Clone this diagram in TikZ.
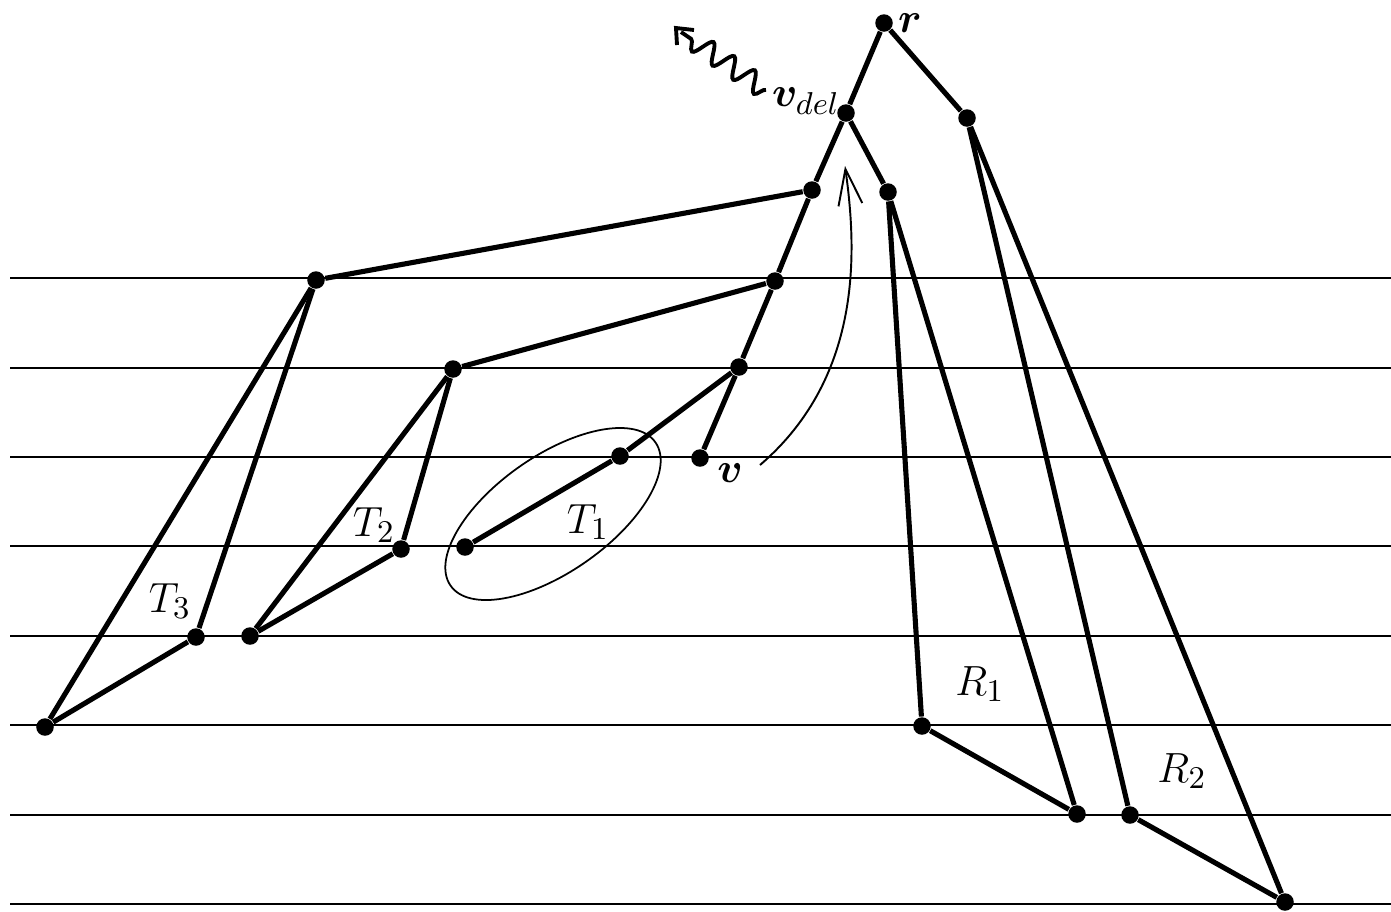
\documentclass[tikz,border=0pt]{standalone}
\usepackage{bm}
\usepackage{tikz}
\usetikzlibrary{positioning,arrows.meta,decorations.pathmorphing}
\tikzset{
  vtx/.style={circle,fill=black,inner sep=0pt,minimum size=1.75mm},
  edge/.style={line width=1.45pt},
  rule/.style={line width=0.6pt},
  lbl/.style={inner sep=1pt,font=\fontsize{13}{15}\selectfont},
  thinarrow/.style={line width=0.55pt,-{Straight Barb[length=3.6mm,width=2.4mm]}},
  wiggle/.style={line width=1.1pt,decorate,decoration={snake,amplitude=1mm,segment length=2.5mm}}
}

\begin{document}
\begin{tikzpicture}[x=0.01cm,y=-0.01cm]
  \useasboundingbox (0,0) rectangle (1391,911);
  % levels
  \foreach \y in {278,368,457,546,636,725,815,904}
    \draw[rule] (10,\y) -- (1391,\y);
  % vertices
  \node[vtx] (r) at (884,23) {};
  \node[vtx] (vdel) at (846,113) {};
  \node[vtx] (a) at (967,118) {};
  \node[vtx] (b) at (888,192) {};
  \node[vtx] (c) at (812,190) {};
  \node[vtx] (d) at (775,281) {};
  \node[vtx] (e) at (739,367) {};
  \node[vtx] (v) at (700,458) {};
  \node[vtx] (f) at (620,456) {};
  \node[vtx] (g) at (465,547) {};
  \node[vtx] (h) at (316,280) {};
  \node[vtx] (i) at (453,369) {};
  \node[vtx] (j) at (401,549) {};
  \node[vtx] (k) at (250,636) {};
  \node[vtx] (l) at (196,637) {};
  \node[vtx] (m) at (45,727) {};
  \node[vtx] (n) at (922,726) {};
  \node[vtx] (o) at (1077,814) {};
  \node[vtx] (p) at (1130,815) {};
  \node[vtx] (q) at (1285,902) {};
  % edges
  \draw[edge] (r) -- (vdel);
  \draw[edge] (r) -- (a);
  \draw[edge] (vdel) -- (c);
  \draw[edge] (vdel) -- (b);
  \draw[edge] (c) -- (d);
  \draw[edge] (d) -- (e);
  \draw[edge] (e) -- (v);
  \draw[edge] (e) -- (f);
  \draw[edge] (f) -- (g);
  \draw[edge] (c) -- (h);
  \draw[edge] (d) -- (i);
  \draw[edge] (h) -- (m);
  \draw[edge] (h) -- (l);
  \draw[edge] (l) -- (m);
  \draw[edge] (i) -- (k);
  \draw[edge] (i) -- (j);
  \draw[edge] (j) -- (k);
  \draw[edge] (b) -- (n);
  \draw[edge] (b) -- (o);
  \draw[edge] (n) -- (o);
  \draw[edge] (a) -- (p);
  \draw[edge] (a) -- (q);
  \draw[edge] (p) -- (q);
  % T1 ring
  \draw[line width=0.5pt,rotate around={35:(553,514)}] (553,514) ellipse (125 and 58);
  % labels
  \node[lbl] (rl) at (910,23) {$\bm{r}$};
  \node[lbl] (vdell) at (806,101) {$\bm{v}_{del}$};
  \node[lbl] (vl) at (730,473) {$\bm{v}$};
  \node[lbl] (t1) at (588,522) {$T_1$};
  \node[lbl] (t2) at (374,525) {$T_2$};
  \node[lbl] (t3) at (170,601) {$T_3$};
  \node[lbl] (r1) at (980,684) {$R_1$};
  \node[lbl] (r2) at (1182,771) {$R_2$};
  % move up
  \coordinate (up0) at (760,465);
  \coordinate (up1) at (845,166);
  \draw[thinarrow] (up0) .. controls (865,375) and (856,245) .. (up1);
  % deletion squiggle
  \coordinate (w0) at (766,90);
  \coordinate (w1) at (681,32);
  \draw[wiggle] (w0) -- (w1);
  \draw[line width=1.1pt] (694,30) -- (676,28) -- (677,45);
\end{tikzpicture}
\end{document}
